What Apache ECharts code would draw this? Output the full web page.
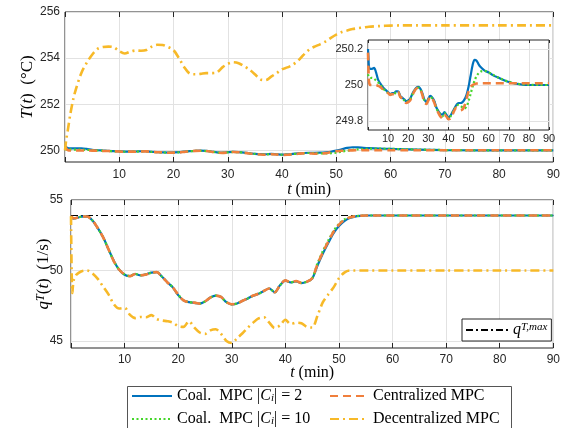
<!DOCTYPE html>
<html><head><meta charset="utf-8">
<script src="https://cdn.jsdelivr.net/npm/echarts@6/dist/echarts.min.js"></script>
<style>html,body{margin:0;padding:0;background:#fff}#c{width:563px;height:428px}</style>
</head><body><div id="c"></div>
<script>
// time samples (min)
const tMin = [0, 0.25, 0.5, 1, 1.5, 2, 3, 4, 5, 6,
  7, 8, 9, 10, 11, 12, 13, 14, 15, 16,
  17, 18, 19, 20, 21, 22, 23, 24, 25, 26,
  27, 28, 29, 30, 31, 32, 33, 34, 35, 36,
  37, 38, 39, 40, 41, 42, 43, 44, 45, 46,
  47, 48, 49, 50, 51, 52, 53, 54, 55, 56,
  58, 60, 62, 65, 70, 75, 80, 85, 90];

// Temperature T(t) (°C)
const tempCoal2 = [250.20, 250.15, 250.10, 250.09, 250.09, 250.09, 250.095, 250.07, 250.03, 250.01,
  249.995, 249.98, 249.97, 249.96, 249.95, 249.955, 249.955, 249.965, 249.965, 249.94,
  249.93, 249.92, 249.91, 249.915, 249.925, 249.95, 249.97, 249.985, 249.99, 249.98,
  249.955, 249.92, 249.905, 249.925, 249.94, 249.93, 249.91, 249.875, 249.855, 249.84,
  249.835, 249.85, 249.835, 249.82, 249.83, 249.85, 249.87, 249.89, 249.9, 249.9,
  249.905, 249.92, 249.945, 249.99, 250.05, 250.11, 250.14, 250.135, 250.115, 250.1,
  250.08, 250.07, 250.055, 250.04, 250.017, 250.005, 250.0, 250.0, 250.0];
const tempCoal10 = [250.06, 250.05, 250.045, 250.045, 250.04, 250.04, 250.035, 250.025, 250.015, 250.0,
  249.99, 249.975, 249.965, 249.955, 249.945, 249.95, 249.95, 249.96, 249.96, 249.935,
  249.925, 249.915, 249.905, 249.91, 249.92, 249.945, 249.965, 249.98, 249.985, 249.975,
  249.95, 249.915, 249.9, 249.92, 249.935, 249.925, 249.905, 249.87, 249.85, 249.835,
  249.825, 249.845, 249.83, 249.815, 249.825, 249.845, 249.865, 249.885, 249.89, 249.885,
  249.875, 249.87, 249.88, 249.91, 249.95, 249.99, 250.025, 250.05, 250.065, 250.075,
  250.078, 250.07, 250.058, 250.04, 250.018, 250.006, 250.001, 250.0, 250.0];
const tempCentral = [250.18, 250.08, 250.02, 250.0, 250.0, 250.0, 250.0, 250.0, 249.995, 249.99,
  249.98, 249.975, 249.965, 249.955, 249.945, 249.95, 249.945, 249.955, 249.96, 249.935,
  249.925, 249.915, 249.9, 249.905, 249.915, 249.94, 249.965, 249.98, 249.985, 249.975,
  249.945, 249.905, 249.895, 249.915, 249.935, 249.925, 249.9, 249.87, 249.845, 249.825,
  249.815, 249.835, 249.825, 249.81, 249.815, 249.835, 249.86, 249.875, 249.87, 249.86,
  249.865, 249.885, 249.925, 249.965, 249.99, 250.0, 250.005, 250.008, 250.01, 250.01,
  250.01, 250.01, 250.01, 250.01, 250.01, 250.01, 250.01, 250.01, 250.01];
const tempDecentral = [250.0, 250.5, 250.85, 251.6, 252.2, 252.65, 253.35, 253.8, 254.15, 254.4,
  254.48, 254.5, 254.47, 254.3, 254.2, 254.28, 254.33, 254.32, 254.35, 254.5,
  254.58, 254.57, 254.48, 254.35, 254.0, 253.6, 253.33, 253.3, 253.32, 253.35,
  253.35, 253.38, 253.6, 253.75, 253.82, 253.78, 253.65, 253.5, 253.3, 253.08,
  253.05, 253.2, 253.35, 253.52, 253.6, 253.72, 253.9, 254.15, 254.37, 254.5,
  254.6, 254.72, 254.88, 255.02, 255.13, 255.2, 255.26, 255.3, 255.33, 255.36,
  255.39, 255.41, 255.42, 255.42, 255.42, 255.42, 255.42, 255.42, 255.42];

// Flow q^T(t) (1/s)
const qCoal2 = [53.8, 53.7, 53.68, 53.72, 53.78, 53.82, 53.82, 53.55, 53.0, 52.35,
  51.5, 50.68, 50.05, 49.7, 49.6, 49.75, 49.65, 49.72, 49.85, 49.88,
  49.55, 49.15, 48.8, 48.25, 47.88, 47.75, 47.7, 47.65, 47.8, 48.08,
  48.22, 48.12, 47.75, 47.6, 47.66, 47.85, 48.02, 48.2, 48.35, 48.55,
  48.72, 48.45, 48.95, 49.28, 49.15, 49.22, 49.1, 49.2, 49.42, 50.35,
  51.2, 51.95, 52.65, 53.15, 53.5, 53.72, 53.82, 53.87, 53.9, 53.9,
  53.9, 53.9, 53.9, 53.9, 53.9, 53.9, 53.9, 53.9, 53.9];
const qCoal10 = [53.82, 53.72, 53.7, 53.72, 53.78, 53.83, 53.83, 53.55, 53.0, 52.35,
  51.5, 50.66, 50.05, 49.72, 49.6, 49.75, 49.66, 49.72, 49.84, 49.88,
  49.55, 49.15, 48.8, 48.28, 47.88, 47.75, 47.72, 47.65, 47.8, 48.08,
  48.22, 48.12, 47.75, 47.6, 47.66, 47.85, 48.02, 48.22, 48.35, 48.55,
  48.72, 48.45, 48.95, 49.3, 49.15, 49.25, 49.12, 49.2, 49.45, 50.5,
  51.38, 52.12, 52.8, 53.3, 53.62, 53.78, 53.85, 53.88, 53.9, 53.9,
  53.9, 53.9, 53.9, 53.9, 53.9, 53.9, 53.9, 53.9, 53.9];
const qCentral = [53.85, 53.75, 53.7, 53.72, 53.78, 53.82, 53.83, 53.55, 53.0, 52.35,
  51.5, 50.65, 50.05, 49.72, 49.6, 49.75, 49.66, 49.72, 49.84, 49.88,
  49.55, 49.15, 48.8, 48.28, 47.88, 47.75, 47.72, 47.65, 47.8, 48.08,
  48.22, 48.12, 47.75, 47.6, 47.66, 47.85, 48.02, 48.22, 48.35, 48.55,
  48.72, 48.45, 48.95, 49.3, 49.15, 49.25, 49.12, 49.2, 49.45, 50.45,
  51.3, 52.05, 52.75, 53.25, 53.58, 53.76, 53.84, 53.88, 53.9, 53.9,
  53.9, 53.9, 53.9, 53.9, 53.9, 53.9, 53.9, 53.9, 53.9];
const qDecentral = [53.85, 48.4, 49.3, 49.7, 49.85, 49.95, 50.0, 49.8, 49.4, 48.85,
  48.3, 47.6, 47.3, 47.35, 46.85, 46.62, 46.7, 46.68, 46.83, 46.55,
  46.45, 46.4, 46.3, 46.05, 46.0, 46.4, 45.96, 45.6, 45.5, 45.75,
  45.83, 45.5, 45.0, 44.85, 45.2, 45.55, 45.95, 46.3, 46.6, 46.68,
  46.3, 45.92, 46.1, 46.5, 46.2, 46.3, 46.25, 46.0, 45.95, 46.8,
  47.75, 48.3, 48.8, 49.45, 49.85, 50.0, 50.0, 50.0, 50.0, 50.0,
  50.0, 50.0, 50.0, 50.0, 50.0, 50.0, 50.0, 50.0, 50.0];
const tMax = [0, 90];
const qMax = [53.9, 53.9];

// tick labels
const xTicks = [10, 20, 30, 40, 50, 60, 70, 80, 90];
const tTicks = [250, 252, 254, 256];
const qTicks = [45, 50, 55];
const insetTicks = [249.8, 250, 250.2];

const NAMES = {c2: 'Coal. MPC |Ci| = 2', c10: 'Coal. MPC |Ci| = 10', cen: 'Centralized MPC', dec: 'Decentralized MPC', max: 'qmax'};
const COL = {c2: '#0072BD', c10: '#45D62A', cen: '#F07F3C', dec: '#F7B928'};
const AX = '#262626', GRIDC = '#e2e2e2';
const sans = 'Liberation Sans, Arial, sans-serif';
const serif = 'Liberation Serif, DejaVu Serif, serif';
const pair = (ts, vs) => ts.map((t, i) => [t, vs[i]]);

const richMath = (fs) => ({
  r: {fontFamily: serif, fontSize: fs, color: '#000'},
  i: {fontFamily: serif, fontStyle: 'italic', fontSize: fs, color: '#000'},
  sup: {fontFamily: serif, fontStyle: 'italic', fontSize: Math.round(fs * 0.7), color: '#000', verticalAlign: 'top'},
  sub: {fontFamily: serif, fontStyle: 'italic', fontSize: Math.round(fs * 0.7), color: '#000', verticalAlign: 'bottom'}
});

function xBottom(g, fs, margin, name, nameGap) {
  return {type: 'value', gridIndex: g, position: 'bottom', min: 0, max: 90, interval: 10,
    axisLine: {show: false},
    axisTick: {inside: true, length: g === 2 ? 3 : 5, lineStyle: {color: AX}},
    axisLabel: {color: AX, fontSize: fs, fontFamily: sans, margin: margin,
      formatter: v => (xTicks.indexOf(v) >= 0 ? String(v) : '')},
    splitLine: {show: true, lineStyle: {color: GRIDC, width: 1}},
    name: name, nameLocation: 'middle', nameGap: nameGap, nameMoveOverlap: false,
    nameTextStyle: {rich: richMath(16)}, z: g === 2 ? 4 : 0};
}
function xTop(g) {
  return {type: 'value', gridIndex: g, position: 'top', min: 0, max: 90, interval: 10,
    axisLine: {show: false}, axisTick: {inside: true, length: g === 2 ? 3 : 5, lineStyle: {color: AX}},
    axisLabel: {show: false}, splitLine: {show: false}, z: g === 2 ? 4 : 0};
}
function yLeft(g, min, max, ticks, fs, margin, name, nameGap) {
  return {type: 'value', gridIndex: g, position: 'left', min: min, max: max,
    axisLine: {show: false},
    axisTick: {show: false, customValues: ticks},
    axisLabel: {color: AX, fontSize: fs, fontFamily: sans, margin: margin, customValues: ticks},
    splitLine: {show: true, lineStyle: {color: GRIDC, width: 1}},
    name: name, nameLocation: 'middle', nameGap: nameGap, nameRotate: 90, nameMoveOverlap: false,
    nameTextStyle: {rich: richMath(17)}, z: g === 2 ? 4 : 0};
}

const styles = {
  c2: {color: COL.c2, width: 2.2, type: 'solid'},
  c10: {color: COL.c10, width: 2.2, type: [2, 2.5]},
  cen: {color: COL.cen, width: 2.6, type: [8, 5]},
  dec: {color: COL.dec, width: 2.6, type: [9, 4, 2, 4]}
};
function line(key, xi, yi, data, z) {
  return {type: 'line', name: NAMES[key], xAxisIndex: xi, yAxisIndex: yi, data: data,
    symbol: 'none', showSymbol: false, smooth: 0.3, lineStyle: styles[key],
    itemStyle: {color: COL[key]}, z: z, animation: false, clip: true};
}

const legendRich = {
  r: {fontFamily: serif, fontSize: 16, color: '#000'},
  cal: {fontFamily: serif, fontStyle: 'italic', fontSize: 16, color: '#000'},
  sub: {fontFamily: serif, fontStyle: 'italic', fontSize: 11, color: '#000', verticalAlign: 'bottom'},
  i: {fontFamily: serif, fontStyle: 'italic', fontSize: 16, color: '#000'},
  sup: {fontFamily: serif, fontStyle: 'italic', fontSize: 11, color: '#000', verticalAlign: 'top'}
};
function legendFmt(name) {
  if (name === NAMES.c2) return '{r|Coal.  MPC |}{cal|C}{sub|i}{r|| = 2}';
  if (name === NAMES.c10) return '{r|Coal.  MPC |}{cal|C}{sub|i}{r|| = 10}';
  if (name === NAMES.max) return '{i|q}{sup|T,max}';
  return '{r|' + name + '}';
}
const legItem = {opacity: 0};

const option = {
  animation: false,
  backgroundColor: '#fff',
  grid: [
    {left: 65, top: 12, width: 491, height: 150, show: true, borderColor: AX, borderWidth: 1, backgroundColor: '#fff', z: 0},
    {left: 71, top: 200, width: 485, height: 148, show: true, borderColor: AX, borderWidth: 1, backgroundColor: '#fff', z: 0},
    {left: 368, top: 40, width: 181, height: 90, show: true, borderColor: AX, borderWidth: 1, backgroundColor: '#fff', z: 3}
  ],
  xAxis: [
    xBottom(0, 12, 7, '{i|t}{r| (min)}', 20), xTop(0),
    xBottom(1, 12, 6, '{i|t}{r| (min)}', 17), xTop(1),
    xBottom(2, 11, 3, '', 0), xTop(2)
  ],
  yAxis: [
    yLeft(0, 249.5, 256, tTicks, 12, 5, '{i|T}{r|(}{i|t}{r|)  (°C)}', 29),
    yLeft(1, 44.5, 55, qTicks, 12, 8, '{i|q}{sup|T}{r|(}{i|t}{r|)  (1/s)}', 19),
    yLeft(2, 249.75, 250.25, insetTicks, 11, 5, '', 0)
  ],
  legend: [
    {data: [NAMES.c2, NAMES.c10], orient: 'vertical', left: 131, top: 388, itemWidth: 40, itemHeight: 12, itemGap: 7,
      formatter: legendFmt, textStyle: {rich: legendRich}, padding: 0, itemStyle: legItem},
    {data: [NAMES.cen, NAMES.dec], orient: 'vertical', left: 329, top: 388, itemWidth: 38, itemHeight: 12, itemGap: 7,
      formatter: legendFmt, textStyle: {rich: legendRich}, padding: 0, itemStyle: legItem},
    {data: [NAMES.max], left: 462, top: 319, itemWidth: 42, itemHeight: 12, padding: [3, 4, 3, 3],
      formatter: legendFmt, textStyle: {rich: legendRich}, borderColor: AX, borderWidth: 1, backgroundColor: '#fff',
      borderRadius: 0, itemStyle: legItem}
  ],
  graphic: [
    {type: 'rect', left: 127, top: 386, shape: {width: 384, height: 50}, style: {fill: '#fff', stroke: '#555', lineWidth: 1}, z: 0}
  ],
  series: [
    line('c2', 0, 0, pair(tMin, tempCoal2), 2),
    line('c10', 0, 0, pair(tMin, tempCoal10), 2),
    line('cen', 0, 0, pair(tMin, tempCentral), 2),
    line('dec', 0, 0, pair(tMin, tempDecentral), 2),
    line('c2', 4, 2, pair(tMin, tempCoal2), 6),
    line('c10', 4, 2, pair(tMin, tempCoal10), 6),
    line('cen', 4, 2, pair(tMin, tempCentral), 6),
    {type: 'line', name: NAMES.max, xAxisIndex: 2, yAxisIndex: 1, data: pair(tMax, qMax), symbol: 'none',
      lineStyle: {color: '#000', width: 1, type: [7, 3, 2, 3]}, itemStyle: {color: '#000'}, z: 2, animation: false},
    line('c2', 2, 1, pair(tMin, qCoal2), 2),
    line('c10', 2, 1, pair(tMin, qCoal10), 2),
    line('cen', 2, 1, pair(tMin, qCentral), 2),
    line('dec', 2, 1, pair(tMin, qDecentral), 2)
  ]
};
const chart = echarts.init(document.getElementById('c'), null, {renderer: 'canvas'});
chart.setOption(option);
</script></body></html>
